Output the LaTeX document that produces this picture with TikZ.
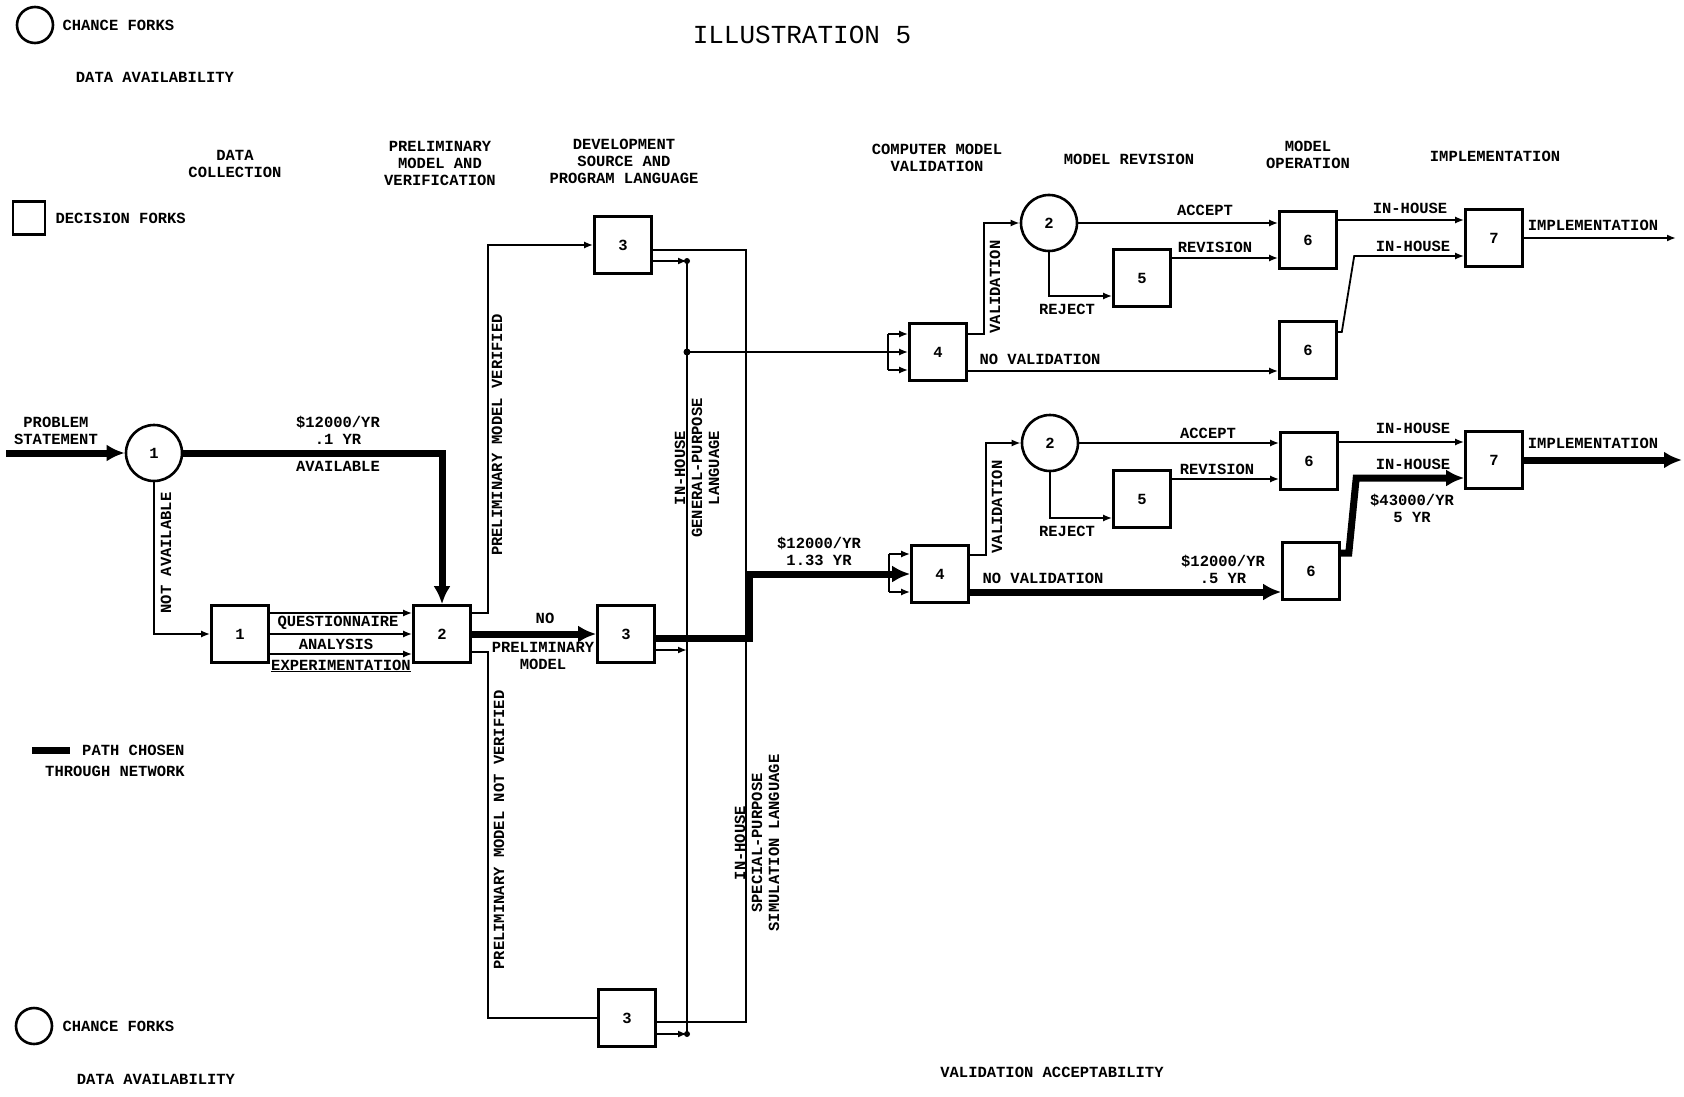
\documentclass[tikz,border=0pt]{standalone}
\usepackage{fontspec}
\usepackage{tikz}
\usetikzlibrary{arrows.meta,positioning}
\newfontfamily\twfont{Liberation Mono}
\newcommand{\tw}{\twfont\bfseries\fontsize{15.5}{17}\selectfont}
\newcommand{\twtitle}{\twfont\fontsize{26}{28}\selectfont}

\begin{document}
\begin{tikzpicture}[
  x=1pt, y=-1pt,
  dbox/.style={draw, line width=2.6pt, minimum width=57pt, minimum height=57pt, inner sep=0pt, font=\tw},
  cfork/.style={draw, circle, line width=2.6pt, minimum size=56pt, inner sep=0pt, font=\tw},
  lbl/.style={font=\tw, align=center, inner sep=0pt},
  ln/.style={line width=1.8pt},
  arr/.style={ln, -{Latex[length=9pt,width=7pt]}},
  pth/.style={line width=7pt},
  parr/.style={pth, -{Latex[length=18pt,width=17pt]}}
]
\useasboundingbox (0,0) rectangle (1684,1097);

% title and legend
\node[font=\twtitle] (title) at (802,35) {ILLUSTRATION 5};
\node[draw, circle, line width=2.6pt, minimum size=36pt] (lc1) at (35,25) {};
\node[lbl, right=8pt of lc1] (lc1t) {CHANCE FORKS};
\node[lbl] (lav1) at (155,77) {DATA AVAILABILITY};
\node[draw, line width=2.6pt, minimum width=32pt, minimum height=33pt] (ld) at (29,218) {};
\node[lbl, right=9pt of ld] (ldt) {DECISION FORKS};
\coordinate (lp1) at (32,750);
\coordinate (lp2) at (70,750);
\draw[pth] (lp1) -- (lp2);
\node[lbl, right=12pt of lp2] (lpt) {PATH CHOSEN};
\node[lbl] (lpt2) at (115,771) {THROUGH NETWORK};
\node[draw, circle, line width=2.6pt, minimum size=36pt] (lc2) at (34,1026) {};
\node[lbl, right=9pt of lc2] (lc2t) {CHANCE FORKS};
\node[lbl] (lav2) at (156,1079) {DATA AVAILABILITY};
\node[lbl] (lva) at (1052,1072) {VALIDATION ACCEPTABILITY};

% stage headings
\node[lbl] (h1) at (235,164) {DATA\\COLLECTION};
\node[lbl] (h2) at (440,163) {PRELIMINARY\\MODEL AND\\VERIFICATION};
\node[lbl] (h3) at (624,161) {DEVELOPMENT\\SOURCE AND\\PROGRAM LANGUAGE};
\node[lbl] (h4) at (937,158) {COMPUTER MODEL\\VALIDATION};
\node[lbl] (h5) at (1129,159) {MODEL REVISION};
\node[lbl] (h6) at (1308,155) {MODEL\\OPERATION};
\node[lbl] (h7) at (1495,156) {IMPLEMENTATION};

% forks
\node[cfork] (ch1) at (154,453) {1};
\node[dbox] (d1) at (240,634) {1};
\node[dbox] (d2) at (442,634) {2};
\node[dbox] (d3a) at (623,245) {3};
\node[dbox] (d3b) at (626,634) {3};
\node[dbox] (d3c) at (627,1018) {3};
\node[dbox] (d4a) at (938,352) {4};
\node[dbox] (d4b) at (940,574) {4};
\node[cfork] (ch2a) at (1049,223) {2};
\node[dbox] (d5a) at (1142,278) {5};
\node[dbox] (d6a) at (1308,240) {6};
\node[dbox] (d6b) at (1308,350) {6};
\node[dbox] (d7a) at (1494,238) {7};
\node[cfork] (ch2b) at (1050,443) {2};
\node[dbox] (d5b) at (1142,499) {5};
\node[dbox] (d6c) at (1309,461) {6};
\node[dbox] (d6d) at (1311,571) {6};
\node[dbox] (d7b) at (1494,460) {7};

% data collection
\coordinate (pin) at (6,453);
\draw[parr] (pin) -- (ch1.west);
\node[lbl] (tps) at (56,431) {PROBLEM\\STATEMENT};
\draw[parr] (ch1.east) -| (d2.north);
\node[lbl] (tc1) at (338,430) {\$12000/YR\\.1 YR};
\node[lbl] (tav) at (338,466) {AVAILABLE};
\draw[arr] (ch1.south) |- (d1.west);
\node[lbl, rotate=90] (tnav) at (166,553) {NOT AVAILABLE};
\foreach \s in {21,0,-20}
  \draw[arr] ([yshift=\s pt]d1.east) -- ([yshift=\s pt]d2.west);
\node[lbl] (tq) at (338,623) {QUESTIONNAIRE};
\node[lbl] (tan) at (336,644) {ANALYSIS};
\node[lbl] (tex) at (341,666) {\underline{EXPERIMENTATION}};

% preliminary model
\draw[arr] ([yshift=21pt]d2.east) -- ++(16,0) |- (d3a.west);
\node[lbl, rotate=90] (tpv) at (497,435) {PRELIMINARY MODEL VERIFIED};
\draw[parr] (d2.east) -- (d3b.west);
\node[lbl] (tno) at (545,618) {NO};
\node[lbl] (tpm) at (543,656) {PRELIMINARY\\MODEL};
\draw[ln] ([yshift=-18pt]d2.east) -- ++(16,0) |- (d3c.west);
\node[lbl, rotate=90] (tpnv) at (499,830) {PRELIMINARY MODEL NOT VERIFIED};

% program language
\coordinate (gp1) at (687,261);
\coordinate (gp2) at (687,650);
\coordinate (gp3) at (687,1034);
\draw[ln] (gp1) -- (gp3);
\foreach \b/\g in {d3a/gp1,d3b/gp2,d3c/gp3}
  \draw[arr] ([yshift=-16pt]\b.east) -- (\g);
\fill (gp1) circle[radius=3pt] (gp3) circle[radius=3pt];
\coordinate (gpj) at (gp1 |- d4a.west);
\fill (gpj) circle[radius=3.5pt];
\node[lbl, rotate=90] (tgp) at (697,468) {IN-HOUSE\\GENERAL-PURPOSE\\LANGUAGE};
\coordinate (fk1) at ([xshift=-20pt]d4a.west);
\draw[ln] (gpj) -- (fk1);
\draw[ln] ([yshift=18pt]fk1) -- ([yshift=-18pt]fk1);
\foreach \s in {18,0,-18}
  \draw[arr] ([yshift=\s pt]fk1) -- ([yshift=\s pt]d4a.west);

\coordinate (spb) at (746,1022);
\draw[ln] ([yshift=-5pt]d3a.east) -| (spb) -- ([yshift=-4pt]d3c.east);
\node[lbl, rotate=90] (tsp) at (757,843) {IN-HOUSE\\SPECIAL-PURPOSE\\SIMULATION LANGUAGE};
\draw[parr] ([yshift=-4pt]d3b.east) -- ++(94,0) |- (d4b.west);
\node[lbl] (tc2) at (819,551) {\$12000/YR\\1.33 YR};
\coordinate (fk2) at ([xshift=-21pt]d4b.west);
\draw[ln] ([yshift=20pt]fk2) -- ([yshift=-18pt]fk2);
\foreach \s in {20,-18}
  \draw[arr] ([yshift=\s pt]fk2) -- ([yshift=\s pt]d4b.west);

% upper branch
\draw[arr] ([yshift=18pt]d4a.east) -- ++(16,0) |- (ch2a.west);
\node[lbl, rotate=90] (tva) at (995,287) {VALIDATION};
\draw[arr] (ch2a.east) -- ([yshift=17pt]d6a.west);
\node[lbl] (tac1) at (1205,210) {ACCEPT};
\draw[arr] (ch2a.south) |- ([yshift=-18pt]d5a.west);
\node[lbl] (trj1) at (1067,309) {REJECT};
\draw[arr] ([yshift=20pt]d5a.east) -- ([yshift=-18pt]d6a.west);
\node[lbl] (trv1) at (1215,247) {REVISION};
\draw[arr] ([yshift=-19pt]d4a.east) -- ([yshift=-21pt]d6b.west);
\node[lbl] (tnv1) at (1040,359) {NO VALIDATION};
\draw[arr] ([yshift=20pt]d6a.east) -- ([yshift=18pt]d7a.west);
\node[lbl] (tih1) at (1410,208) {IN-HOUSE};
\draw[arr] ([yshift=18pt]d6b.east) -- ++(4,0) -- ([xshift=-110pt,yshift=-18pt]d7a.west) -- ([yshift=-18pt]d7a.west);
\node[lbl] (tih2) at (1413,246) {IN-HOUSE};
\coordinate (out1) at (1676,238);
\draw[arr] (d7a.east) -- (out1);
\node[lbl] (tim1) at (1593,225) {IMPLEMENTATION};

% lower branch
\draw[arr] ([yshift=19pt]d4b.east) -- ++(16,0) |- (ch2b.west);
\node[lbl, rotate=90] (tvb) at (997,507) {VALIDATION};
\draw[arr] (ch2b.east) -- ([yshift=18pt]d6c.west);
\node[lbl] (tac2) at (1208,433) {ACCEPT};
\draw[arr] (ch2b.south) |- ([yshift=-19pt]d5b.west);
\node[lbl] (trj2) at (1067,531) {REJECT};
\draw[arr] ([yshift=20pt]d5b.east) -- ([yshift=-18pt]d6c.west);
\node[lbl] (trv2) at (1217,469) {REVISION};
\draw[parr] ([yshift=-18pt]d4b.east) -- ([yshift=-21pt]d6d.west);
\node[lbl] (tnv2) at (1043,578) {NO VALIDATION};
\node[lbl] (tc3) at (1223,569) {\$12000/YR\\.5 YR};
\draw[arr] ([yshift=19pt]d6c.east) -- ([yshift=18pt]d7b.west);
\node[lbl] (tih3) at (1413,428) {IN-HOUSE};
\draw[parr] ([yshift=18pt]d6d.east) -- ++(8,0) -- ([xshift=-108pt,yshift=-18pt]d7b.west) -- ([yshift=-18pt]d7b.west);
\node[lbl] (tih4) at (1413,464) {IN-HOUSE};
\node[lbl] (tc4) at (1412,508) {\$43000/YR\\5 YR};
\coordinate (out2) at (1682,460);
\draw[parr] (d7b.east) -- (out2);
\node[lbl] (tim2) at (1593,443) {IMPLEMENTATION};
\end{tikzpicture}
\end{document}
